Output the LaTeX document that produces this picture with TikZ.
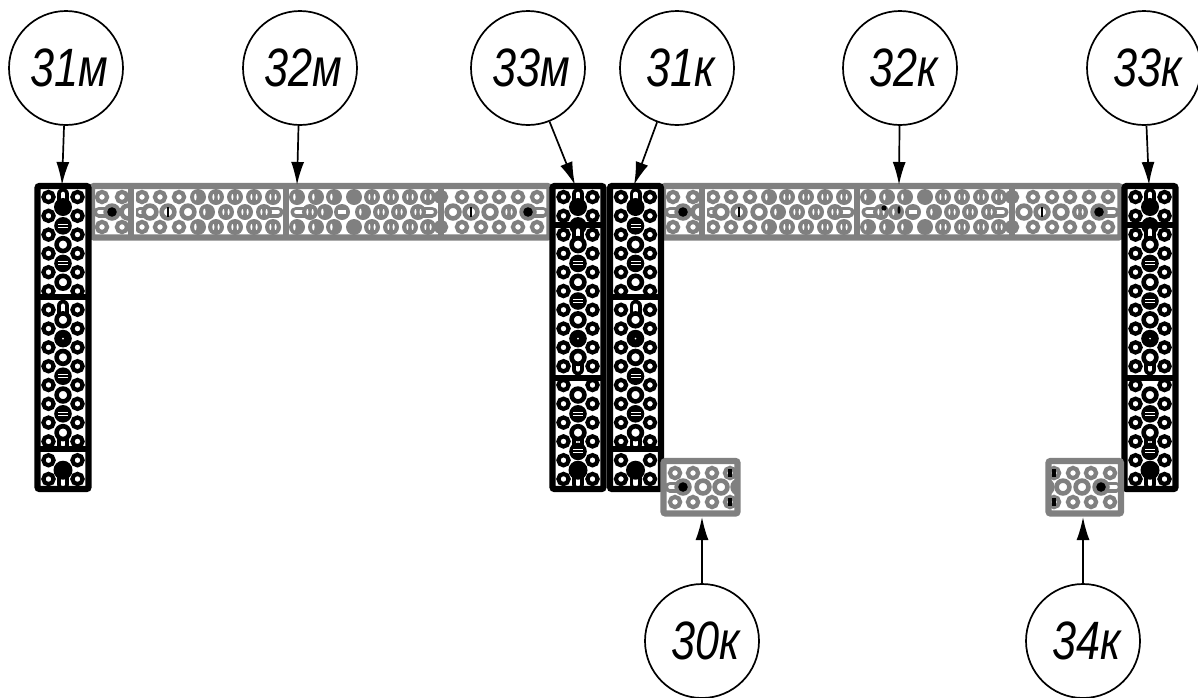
\documentclass[tikz,border=0pt]{standalone}
\usepackage{fontspec}
\setmainfont{Liberation Sans}
\usetikzlibrary{arrows.meta}
\definecolor{plategray}{HTML}{808080}
\newcommand{\lbl}[1]{\hspace*{7pt}\scalebox{0.8}[1]{#1}}
\tikzset{arrow/.style={-{Latex[length=23pt,width=13pt]}, line width=1.7pt}}
\tikzset{callout/.style={circle, draw, line width=1.7pt, minimum size=114pt, inner sep=0pt, font=\fontsize{54}{54}\selectfont\itshape}}
\tikzset{frame/.style={line width=6.2pt, rounded corners=2pt}}
\tikzset{divider/.style={line width=6pt}}
% holes of the plates, all in the current colour
\tikzset{
  skip/.pic={},
  sidering/.pic={\draw[line width=4.2pt, fill=white] (0,0) circle (5.1pt);},
  openring/.pic={\draw[line width=4.6pt, fill=white] (0,0) circle (6.4pt);},
  solid/.pic={\fill (0,0) circle (8pt);},
  dash/.pic={\fill (0,0) circle (8.8pt);
    \fill[white] (-5,-2) rectangle (5,-1); \fill[white] (-5,1) rectangle (5,2);},
  dotted/.pic={\fill (0,0) circle (8.8pt); \fill[white] (0,0) circle (0.9pt);},
  vee/.pic={\fill (0,0) circle (8pt);
    \fill[white] (-2.6,0) ellipse (1pt and 3pt); \fill[white] (2.6,0) ellipse (1pt and 3pt);},
  half/.pic={\fill (0,0) circle (8pt); \fill[white] (-2.6,0) ellipse (1.2pt and 3.4pt);},
  bar/.pic={\draw[line width=4.6pt, fill=white] (0,0) circle (6.4pt); \fill[black] (-1.4,-5) rectangle (1.4,5);},
  sidebar/.pic={\draw[line width=4.2pt, fill=white] (0,0) circle (5.1pt); \fill[black] (-1.7,-4) rectangle (1.7,4);},
  dot/.pic={\draw[line width=4.6pt, fill=white] (0,0) circle (6.4pt); \fill[black] (0,0) circle (4.8pt);},
  flat/.pic={\fill (0,0) circle (8pt); \fill[white] (-4,-1.8) rectangle (4,1.8);},
  hslot/.pic={\draw[line width=11pt, line cap=round] (0,0) -- (#1,0);
    \draw[white, line width=3.6pt, line cap=round] (0,0) -- (#1,0);},
  vslot/.pic={\draw[line width=12pt, line cap=round] (0,0) -- (0,#1);
    \draw[white, line width=4.6pt, line cap=round] (0,0) -- (0,#1);},
  keyup/.pic={\pic {vslot=-13}; \fill (0,0) circle (9pt);},
  keydown/.pic={\pic {vslot=14}; \fill (0,0) circle (9.5pt);},
  ringup/.pic={\pic {vslot=-14}; \pic {openring};},
  ringdown/.pic={\pic {vslot=12}; \pic {openring};},
}
% a black strip: centre x, two dividers, centre holes
\newcommand{\blackstrip}[4]{
  \begin{scope}[color=black]
    \foreach \k in {0,...,15} {
      \pic at (#1-14.5,197+18.8*\k) {sidering};
      \pic at (#1+14.5,197+18.8*\k) {sidering};
    }
    \foreach \htype [count=\i from 0] in {#4} {
      \pic at (#1,207+18.8*\i) {\htype};
    }
    \draw[frame] (#1-25.5,186) rectangle (#1+25.5,489);
    \draw[divider] (#1-25.5,#2) -- (#1+25.5,#2);
    \draw[divider] (#1-25.5,#3) -- (#1+25.5,#3);
  \end{scope}
}
% a gray band, also used shifted for the right one
\newcommand{\grayband}{
  \begin{scope}[color=plategray]
    \foreach \y in {197,227} {
      \foreach \hx/\htype in {102/sidering,122/sidering,
        142/sidering,160/sidering,179/sidering,198/half,216/vee,235/vee,254/vee,273/vee,
        297/half,316/half,334/half,354/solid,372/vee,391/vee,410/vee,428/vee,
        441/sidering,462/sidering,481/sidering,499/sidering,518/sidering,537/sidering} {
        \pic at (\hx,\y) {\htype};
      }
    }
    \pic at (112,212) {hslot=-13};
    \pic at (150,212) {hslot=-10};
    \pic at (264,212) {hslot=14};
    \pic at (310,212) {hslot=-14};
    \pic at (418,212) {hslot=14};
    \pic at (528,212) {hslot=15};
    \foreach \hx/\htype in {112/dot,128/openring,
      150/openring,168/bar,188/openring,207/half,226/vee,245/vee,264/vee,
      310/vee,325/half,342/flat,363/half,381/vee,399/vee,418/vee,
      453/openring,471/bar,490/openring,509/vee,528/dot} {
      \pic at (\hx,212) {\htype};
    }
    \fill[white] (133.5,189) rectangle (136,234.5);
    \draw[divider] (130.5,186) -- (130.5,237.5);
    \draw[divider] (285.5,186) -- (285.5,237.5);
    \draw[divider] (440.5,186) -- (440.5,237.5);
    \draw[frame] (92,186) rectangle (549.5,237.5);
  \end{scope}
}
\begin{document}
\begin{tikzpicture}[x=1pt, y=-1pt]
  \useasboundingbox (0,0) rectangle (1198,697);
  \clip (0,0) rectangle (1198,697);

  % bands
  \grayband
  \begin{scope}[shift={(571,0)}]
    \grayband
  \end{scope}
  \fill (884,208) circle (2.6pt);
  \fill (899,210) ellipse (1.5pt and 4pt);

  % strips
  \blackstrip{63}{297}{449}{keyup,dash,openring,dash,openring,skip,ringup,dotted,openring,dash,openring,dash,ringdown,skip,keydown}
  \blackstrip{578}{225}{378}{keyup,openring,ringup,dash,openring,dash,openring,dotted,ringdown,skip,openring,dash,ringdown,dash,keydown}
  \blackstrip{635.5}{297}{449}{keyup,dash,openring,dash,openring,skip,ringup,dotted,openring,dash,openring,dash,ringdown,skip,keydown}
  \blackstrip{1150}{225}{378}{keyup,openring,ringup,dash,openring,dash,openring,dotted,ringdown,skip,openring,dash,ringdown,dash,keydown}

  % small plates
  \begin{scope}[color=plategray]
    \foreach \y in {473,502} {
      \foreach \hx/\htype in {675/sidering,693/sidering,712/sidering,730/sidebar,
        1054/sidebar,1073/sidering,1091/sidering,1110/sidering} {
        \pic at (\hx,\y) {\htype};
      }
    }
    \pic at (683,487) {hslot=-13};
    \pic at (1101,487) {hslot=15};
    \begin{scope}
      \clip (663,461) rectangle (737.5,513);
      \pic at (739,487) {openring};
    \end{scope}
    \begin{scope}
      \clip (1048.5,461) rectangle (1121,513);
      \pic at (1046,487) {openring};
    \end{scope}
    \foreach \hx/\htype in {683/dot,703/openring,721/openring,
      1063/openring,1082/openring,1101/dot} {
      \pic at (\hx,487) {\htype};
    }
    \draw[frame] (663.5,461) rectangle (737.5,513.5);
    \draw[frame] (1048.5,461) rectangle (1121,513.5);
  \end{scope}

  \node[callout] (n31m) at (66,68) {\lbl{31м}};
  \node[callout] (n32m) at (300,68) {\lbl{32м}};
  \node[callout] (n33m) at (528,68) {\lbl{33м}};
  \node[callout] (n31k) at (677,68) {\lbl{31к}};
  \node[callout] (n32k) at (900,68) {\lbl{32к}};
  \node[callout] (n33k) at (1144,68) {\lbl{33к}};
  \node[callout] (n30k) at (702,641) {\lbl{30к}};
  \node[callout] (n34k) at (1083,641) {\lbl{34к}};

  \coordinate (e31m) at (62,185);
  \coordinate (e32m) at (297,185);
  \coordinate (e33m) at (575,185);
  \coordinate (e31k) at (634,185);
  \coordinate (e32k) at (899,185);
  \coordinate (e33k) at (1149,185);
  \coordinate (e30k) at (702,517);
  \coordinate (e34k) at (1083,517);

  \draw[arrow] (n31m) -- (e31m);
  \draw[arrow] (n32m) -- (e32m);
  \draw[arrow] (n33m) -- (e33m);
  \draw[arrow] (n31k) -- (e31k);
  \draw[arrow] (n32k) -- (e32k);
  \draw[arrow] (n33k) -- (e33k);
  \draw[arrow] (n30k) -- (e30k);
  \draw[arrow] (n34k) -- (e34k);
\end{tikzpicture}
\end{document}
